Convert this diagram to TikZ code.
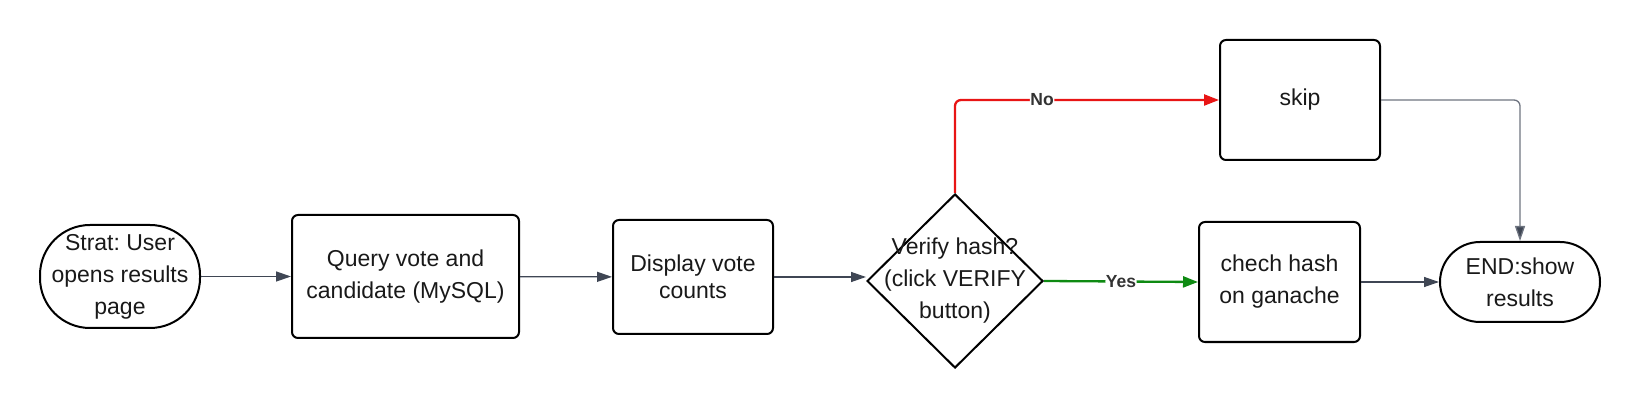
\documentclass[tikz,border=0pt]{standalone}
\usepackage{fontspec}
\setmainfont{Liberation Sans}
\usetikzlibrary{arrows.meta,shapes.geometric}
\definecolor{linegray}{HTML}{3F4654}
\definecolor{lightgray}{HTML}{6E7480}
\definecolor{noRed}{HTML}{E81515}
\definecolor{yesGreen}{HTML}{0E8A12}
\frenchspacing
\begin{document}
\begin{tikzpicture}[x=1pt,y=-1pt,
    every node/.style={font=\fontsize{23}{32}\selectfont, text=black!90, align=center, inner sep=2pt},
    box/.style={draw=black, line width=2pt, rounded corners=6pt},
    term/.style={draw=black, line width=2pt, rounded corners=#1},
    decision/.style={draw=black, diamond, line width=2pt, inner sep=0pt},
    flow/.style={draw=linegray, line width=1.3pt, -{Triangle[length=15pt,width=10pt]}},
    lbl/.style={fill=white, font=\fontsize{17.5}{20}\selectfont\bfseries, text=black!80, inner sep=0.5pt}]
  \useasboundingbox (0,0) rectangle (1640,411);
  % steps
  \node[term=50pt, minimum width=160pt, minimum height=103pt] (start) at (120,276.5) {Strat: User\\opens results\\page};
  \node[box, minimum width=227pt, minimum height=123pt] (query) at (405.5,276.5) {Query vote and\\candidate (MySQL)};
  \node[box, minimum width=160pt, minimum height=114pt, font=\fontsize{23}{26.5}\selectfont] (display) at (693,277) {Display vote\\counts};
  \node[decision, minimum width=176pt, minimum height=174pt,
    label={[align=center]center:Verify hash?\\(click VERIFY\\button)}] (verify) at (955,281) {};
  \node[box, minimum width=160pt, minimum height=120pt] (skip) at (1300,100) {skip};
  \node[box, minimum width=161pt, minimum height=120pt] (check) at (1279.5,282) {chech hash\\on ganache};
  \node[term=40pt, minimum width=160pt, minimum height=80pt] (end) at (1520,282) {END:show\\results};
  % connectors
  \begin{scope}[rounded corners=6pt]
    \draw[flow] (query.west -| start.east) -- (query.west);
    \draw[flow] (query) -- (display);
    \draw[flow] (display.east) -- (display.east -| verify.west);
    \draw[flow, draw=noRed, line width=2.3pt, -{Triangle[length=15pt,width=11pt,fill=noRed]}] (verify.north) |- node[lbl, pos=0.665]{No} (skip.west);
    \draw[flow, draw=yesGreen, line width=2.3pt, -{Triangle[length=15pt,width=11pt,fill=yesGreen]}] (verify.east) -- node[lbl]{Yes} (check.west);
    \draw[flow, draw=lightgray, -{Triangle[length=15pt,width=10pt,fill=linegray]}] (skip.east) -| (end.north);
    \draw[flow] (check.east) -- (check.east -| end.west);
  \end{scope}
\end{tikzpicture}
\end{document}
